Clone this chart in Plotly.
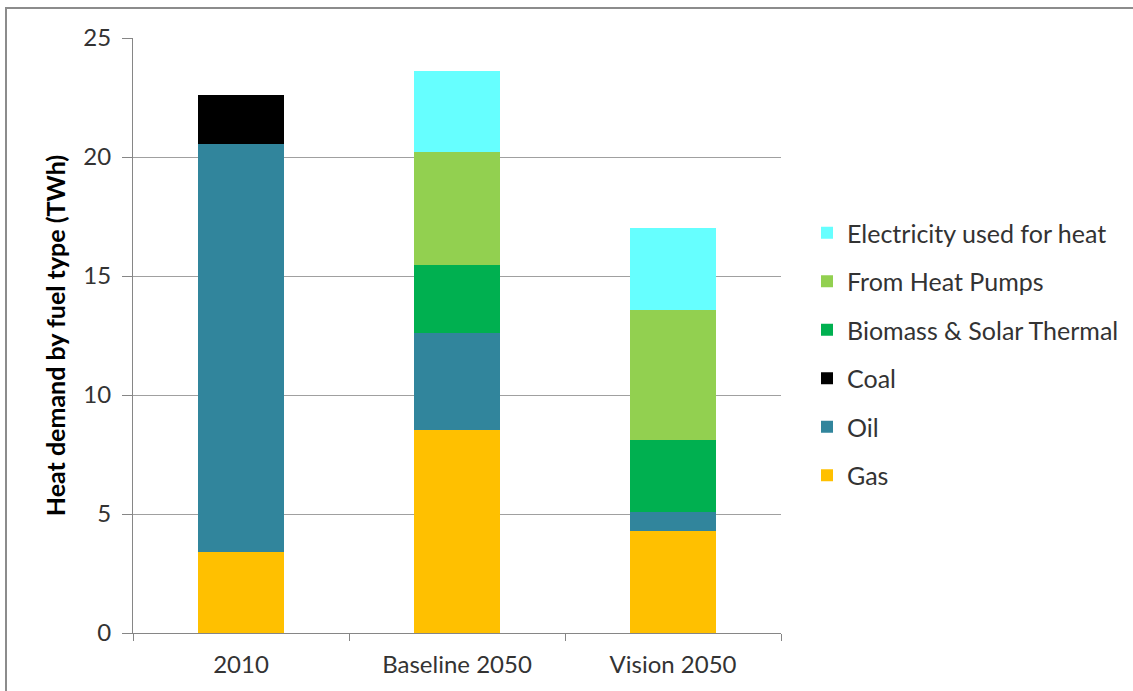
import plotly.graph_objects as go

# Heat demand by fuel type (TWh), stacked per scenario
scenarios = ["2010", "Baseline 2050", "Vision 2050"]
gas = [3.42, 8.53, 4.27]
oil = [17.13, 4.09, 0.81]
coal = [2.04, 0.0, 0.0]
biomass_solar = [0.0, 2.86, 3.02]
heat_pumps = [0.0, 4.74, 5.48]
electricity = [0.0, 3.39, 3.45]

series = [
    ("Gas", gas, "#FFC000"),
    ("Oil", oil, "#31859C"),
    ("Coal", coal, "#000000"),
    ("Biomass & Solar Thermal", biomass_solar, "#00B050"),
    ("From Heat Pumps", heat_pumps, "#92D050"),
    ("Electricity used for heat", electricity, "#66FFFF"),
]

FONT = "Lato, Open Sans, sans-serif"

fig = go.Figure()
n = len(series)
for i, (name, vals, color) in enumerate(series):
    fig.add_trace(go.Bar(
        x=scenarios, y=vals, name=name, legendgroup=name,
        legendrank=n - i,  # top of the stack listed first
        marker=dict(color=color, line=dict(width=0)),
        width=0.4,
    ))

W, H = 1133, 691
L, R, T, B = 133, 352, 38, 58
pw, ph = W - L - R, H - T - B

def px_x(v):
    return (v - L) / pw

def px_y(v):
    return (H - B - v) / ph

fig.update_layout(
    width=W, height=H,
    margin=dict(l=L, r=R, t=T, b=B, autoexpand=False),
    barmode="stack",
    plot_bgcolor="white", paper_bgcolor="white",
    font=dict(family=FONT, size=24, color="#333333"),
    legend=dict(
        traceorder="grouped",
        tracegroupgap=13,
        x=px_x(807), xanchor="left",
        y=px_y(210), yanchor="top",
        font=dict(size=25, color="#333333"),
        itemwidth=30,
    ),
    xaxis=dict(
        showline=True, linecolor="#868686", linewidth=1,
        ticks="outside", tickson="boundaries", ticklen=7, tickcolor="#868686",
        showgrid=False,
        tickfont=dict(size=24),
        ticklabelstandoff=10,
    ),
    yaxis=dict(
        range=[0, 25], dtick=5, tick0=0,
        showline=True, linecolor="#868686", linewidth=1,
        ticks="outside", ticklen=10, tickcolor="#868686",
        showgrid=True, gridcolor="#A0A0A0", gridwidth=1,
        zeroline=False,
        tickfont=dict(size=24),
        ticklabelstandoff=6,
        title=dict(text="<b>Heat demand by fuel type (TWh)</b>",
                   font=dict(size=25, color="#000000"), standoff=10),
    ),
    shapes=[dict(
        type="rect", xref="paper", yref="paper",
        x0=px_x(6), x1=px_x(1160), y0=px_y(720), y1=px_y(8),
        line=dict(color="#8C8C8C", width=2), fillcolor="rgba(0,0,0,0)",
        layer="below",
    )],
)

fig.write_html("out.html")
